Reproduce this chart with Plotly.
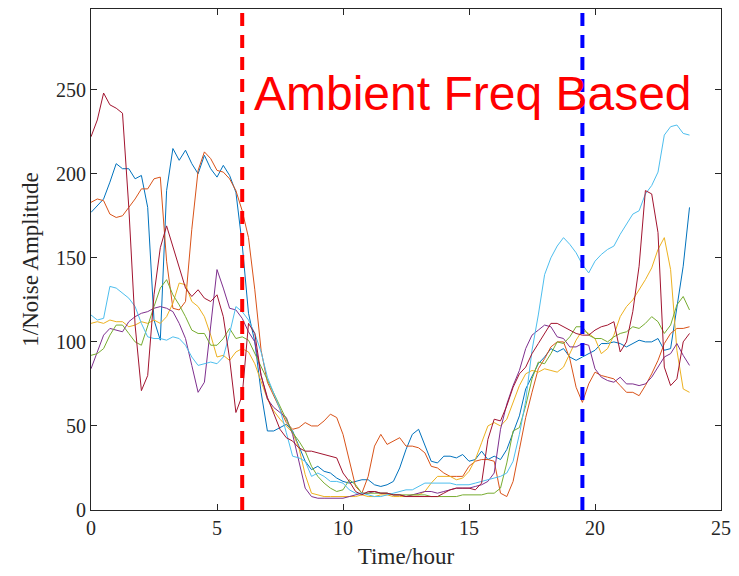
import plotly.graph_objects as go

# Sampling times (hours), one reading every 15 minutes
hours = [k / 4 for k in range(96)]

node_blue = [177, 181, 185, 195, 206, 203, 203, 197, 199, 180, 113, 101,
             190, 215, 208, 214, 206, 200, 211, 203, 198, 205, 199, 189,
             158, 117, 100, 70, 47, 47, 49, 51, 47, 38, 29, 24,
             26, 23, 22, 19, 17, 16, 17, 18, 18, 15, 14, 15,
             17, 25, 36, 45, 48, 39, 29, 28, 32, 32, 31, 33,
             29, 30, 35, 30, 32, 30, 36, 46, 56, 72, 80, 87,
             91, 96, 94, 96, 91, 89, 91, 93, 95, 99, 99, 100,
             99, 97, 99, 101, 100, 100, 102, 95, 96, 121, 145, 180]

node_orange = [183, 185, 184, 176, 174, 175, 180, 185, 191, 191, 197, 198,
               148, 120, 119, 124, 167, 202, 213, 209, 202, 201, 197, 190,
               178, 162, 131, 95, 76, 68, 59, 52, 48, 49, 52, 50,
               50, 53, 57, 55, 45, 30, 14, 10, 20, 38, 45, 39,
               41, 43, 38, 38, 37, 34, 26, 25, 22, 20, 20, 20,
               26, 29, 30, 30, 29, 10, 8, 17, 36, 55, 70, 84,
               90, 97, 100, 100, 90, 73, 64, 75, 82, 80, 79, 78,
               74, 70, 70, 68, 74, 81, 89, 99, 105, 108, 108, 109]

node_yellow = [111, 112, 111, 113, 112, 112, 109, 110, 112, 111, 113, 111,
               115, 123, 135, 134, 124, 121, 115, 104, 91, 92, 89, 94,
               96, 94, 87, 77, 66, 59, 54, 50, 46, 37, 21, 10,
               9, 8, 8, 8, 8, 8, 8, 9, 8, 8, 9, 9,
               8, 8, 8, 9, 9, 11, 16, 20, 20, 20, 18, 19,
               23, 30, 40, 50, 52, 50, 54, 64, 74, 81, 83, 82,
               84, 83, 82, 85, 93, 101, 107, 105, 102, 93, 96, 104,
               115, 121, 125, 131, 137, 144, 155, 162, 143, 95, 72, 70]

node_purple = [84, 94, 104, 108, 107, 106, 112, 115, 117, 118, 120, 121,
               120, 118, 111, 102, 86, 70, 76, 108, 143, 132, 120, 119,
               114, 106, 100, 80, 66, 61, 58, 55, 45, 29, 13, 8,
               7, 7, 7, 7, 7, 8, 9, 10, 10, 11, 10, 10,
               9, 9, 8, 9, 10, 11, 11, 10, 11, 12, 13, 13,
               13, 14, 15, 17, 22, 48, 63, 74, 83, 96, 104, 107,
               110, 109, 103, 102, 97, 97, 99, 98, 84, 79, 77, 76,
               79, 75, 75, 74, 75, 79, 85, 91, 93, 99, 92, 86]

node_green = [92, 93, 96, 104, 110, 110, 105, 100, 98, 110, 121, 132,
              137, 128, 122, 115, 107, 105, 105, 98, 98, 102, 108, 102,
              103, 101, 93, 86, 77, 70, 62, 54, 46, 41, 35, 26,
              20, 16, 13, 11, 12, 18, 15, 10, 10, 10, 10, 10,
              9, 9, 9, 9, 9, 9, 8, 8, 8, 8, 8, 9,
              9, 9, 9, 10, 10, 13, 28, 47, 49, 62, 78, 88,
              87, 93, 100, 99, 103, 109, 109, 104, 102, 102, 100, 103,
              105, 106, 109, 108, 111, 115, 112, 105, 110, 122, 127, 119]

node_lightblue = [116, 113, 114, 133, 132, 129, 126, 121, 111, 103, 102, 102,
                  101, 103, 102, 98, 91, 86, 87, 88, 87, 91, 105, 121,
                  118, 113, 105, 94, 79, 70, 60, 46, 32, 31, 29, 20,
                  22, 20, 17, 17, 16, 12, 10, 10, 9, 8, 8, 9,
                  10, 11, 12, 12, 14, 16, 16, 16, 16, 16, 15, 15,
                  15, 16, 17, 18, 19, 20, 22, 29, 45, 65, 95, 116,
                  140, 150, 157, 162, 158, 153, 146, 141, 148, 152, 155, 157,
                  164, 170, 176, 178, 188, 193, 201, 223, 228, 229, 224, 223]

node_darkred = [222, 232, 248, 241, 239, 236, 180, 110, 71, 80, 128, 156,
                169, 157, 145, 132, 127, 131, 126, 124, 128, 115, 90, 58,
                68, 111, 105, 80, 67, 57, 48, 43, 41, 37, 35, 35,
                34, 33, 32, 31, 22, 17, 11, 9, 11, 11, 10, 10,
                9, 9, 8, 8, 8, 8, 8, 8, 10, 12, 13, 13,
                13, 12, 16, 42, 54, 53, 62, 73, 81, 85, 93, 99,
                105, 111, 111, 109, 107, 105, 104, 104, 107, 109, 110, 112,
                94, 100, 118, 145, 190, 188, 165, 85, 74, 78, 100, 105]

series = [node_blue, node_orange, node_yellow, node_purple,
          node_green, node_lightblue, node_darkred]
colors = ["#0072BD", "#D95319", "#EDB120", "#7E2F8E",
          "#77AC30", "#4DBEEE", "#A2142F"]

# Boundaries of the ambient-frequency window (hours)
window_hours = [6.0, 19.5]
window_colors = ["#FF0000", "#0000FF"]

x_ticks = [0, 5, 10, 15, 20, 25]
y_ticks = [0, 50, 100, 150, 200, 250]

fig = go.Figure()
for vals, col in zip(series, colors):
    fig.add_trace(go.Scatter(x=hours, y=vals, mode="lines",
                             line=dict(color=col, width=1),
                             showlegend=False, hoverinfo="skip"))

for h, col in zip(window_hours, window_colors):
    fig.add_vline(x=h, line=dict(color=col, width=4, dash="13px,9px"))

fig.add_annotation(x=15.15, y=248, xref="x", yref="y",
                   text="Ambient Freq Based", showarrow=False,
                   xanchor="center", yanchor="middle",
                   font=dict(family="Liberation Sans", size=48, color="#FF0000"))

axis_font = dict(family="Liberation Serif", size=20, color="#262626")
title_font = dict(family="Liberation Serif", size=23, color="#262626")

fig.update_xaxes(range=[0, 25], tickvals=x_ticks, ticks="inside", ticklen=6,
                 tickcolor="#262626", showline=True, linecolor="#262626",
                 linewidth=1, mirror="ticks", showgrid=False, zeroline=False,
                 tickfont=axis_font,
                 title=dict(text="Time/hour", font=title_font, standoff=9))
fig.update_yaxes(range=[0, 298], tickvals=y_ticks, ticks="inside", ticklen=6,
                 tickcolor="#262626", showline=True, linecolor="#262626",
                 linewidth=1, mirror="ticks", showgrid=False, zeroline=False,
                 tickfont=axis_font,
                 title=dict(text="1/Noise Amplitude", font=title_font, standoff=10))

fig.update_layout(width=739, height=576,
                  margin=dict(l=91, r=12, t=8, b=66),
                  paper_bgcolor="white", plot_bgcolor="white")

fig.write_html("out.html")
